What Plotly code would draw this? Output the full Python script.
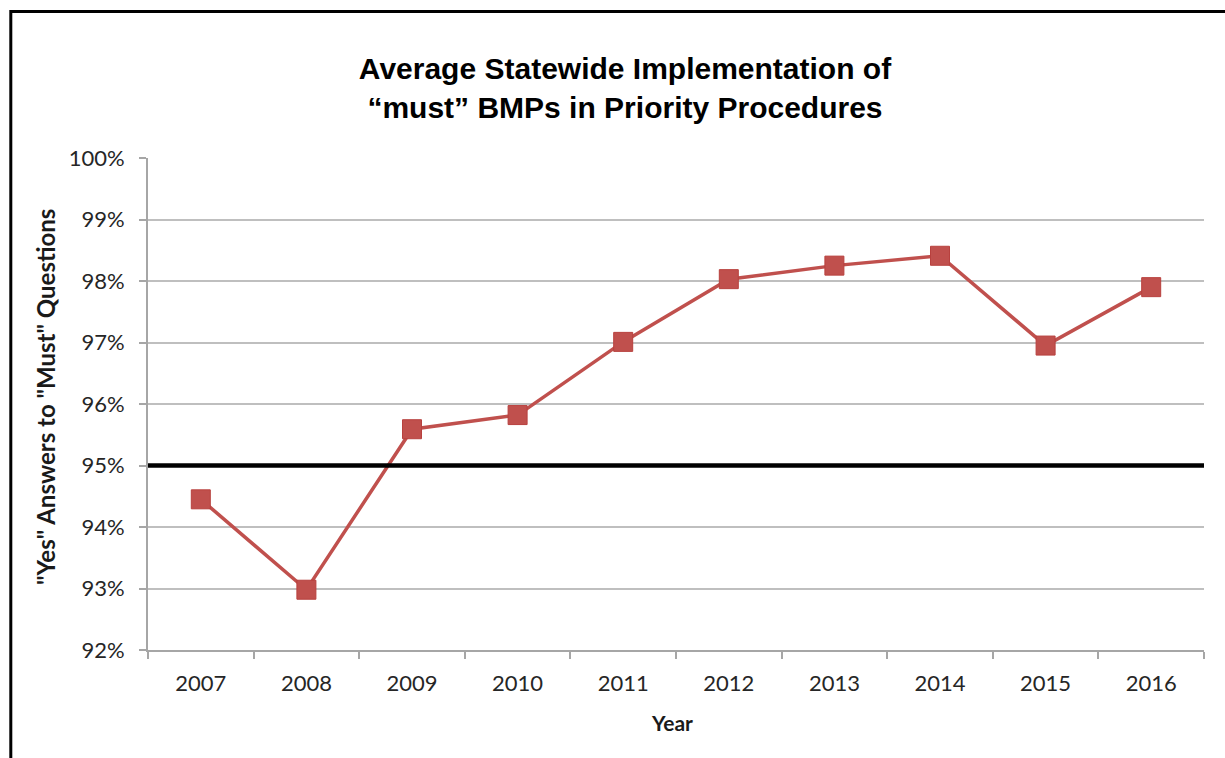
import plotly.graph_objects as go

# Survey years and average share of "Yes" answers to "must" questions (%)
years = ["2007", "2008", "2009", "2010", "2011", "2012", "2013", "2014", "2015", "2016"]
pct_yes = [94.45, 92.98, 95.59, 95.82, 97.01, 98.03, 98.25, 98.41, 96.95, 97.90]
target_pct = 95
y_ticks = [92, 93, 94, 95, 96, 97, 98, 99, 100]
y_tick_labels = [f"{v}%" for v in y_ticks]

W, H = 1225, 758
ML, MR, MT, MB = 148, 21, 158, 108
PW, PH = W - ML - MR, H - MT - MB

def px_x(px):
    return (px - ML) / PW

def px_y(py):
    return (H - MB - py) / PH

red = "#c0504d"
tick_font = dict(family="Lato, Open Sans, sans-serif", size=22, color="#262626")

fig = go.Figure()
fig.add_trace(go.Scatter(
    x=years, y=pct_yes, mode="lines+markers",
    line=dict(color=red, width=3.5),
    marker=dict(symbol="square", size=19, color=red, line=dict(color="#b8413e", width=1)),
    showlegend=False, hoverinfo="x+y",
))

shapes = [
    # 95% target line
    dict(type="line", xref="paper", yref="y", x0=0, x1=1, y0=target_pct, y1=target_pct,
         line=dict(color="black", width=4.5), layer="above"),
    # outer frame
    dict(type="rect", xref="paper", yref="paper",
         x0=px_x(10.8), x1=px_x(1240), y0=px_y(11.5), y1=px_y(780),
         line=dict(color="black", width=3), fillcolor="rgba(0,0,0,0)", layer="above"),
]

annotations = [
    dict(text='"Yes" Answers to "Must" Questions', textangle=-90,
         xref="paper", yref="paper", x=px_x(45), y=px_y(397),
         xanchor="center", yanchor="middle", showarrow=False,
         font=dict(family="Lato, Open Sans, sans-serif", size=24, color="#1a1a1a", weight="bold")),
    dict(text="Year", xref="paper", yref="paper", x=px_x(672), y=px_y(722),
         xanchor="center", yanchor="middle", showarrow=False,
         font=dict(family="Lato, Open Sans, sans-serif", size=21, color="#1a1a1a", weight="bold")),
]

fig.update_layout(
    width=W, height=H,
    margin=dict(l=ML, r=MR, t=MT, b=MB),
    paper_bgcolor="white", plot_bgcolor="white",
    title=dict(
        text="Average Statewide Implementation of<br>\u201cmust\u201d BMPs in Priority Procedures",
        x=625 / W, y=1 - 79 / H, xref="container", yref="container",
        xanchor="center", yanchor="middle",
        font=dict(family="Arial, Liberation Sans, sans-serif", size=30, color="black", weight="bold"),
    ),
    shapes=shapes,
    annotations=annotations,
)

fig.update_xaxes(
    type="category", range=[-0.5, len(years) - 0.5],
    tickson="boundaries", ticks="outside", ticklen=7, tickwidth=1.5, tickcolor="#a6a6a6",
    showline=True, linecolor="#a6a6a6", linewidth=2, showgrid=False,
    tickfont=tick_font, ticklabelstandoff=13, fixedrange=True,
)
fig.update_yaxes(
    range=[92, 100], tickvals=y_ticks, ticktext=y_tick_labels,
    ticks="outside", ticklen=7, tickwidth=1.5, tickcolor="#a6a6a6",
    showline=True, linecolor="#a6a6a6", linewidth=2,
    showgrid=True, gridcolor="#bfbfbf", gridwidth=2, zeroline=False,
    tickfont=tick_font, ticklabelstandoff=10, fixedrange=True,
)

fig.write_html("out.html")
